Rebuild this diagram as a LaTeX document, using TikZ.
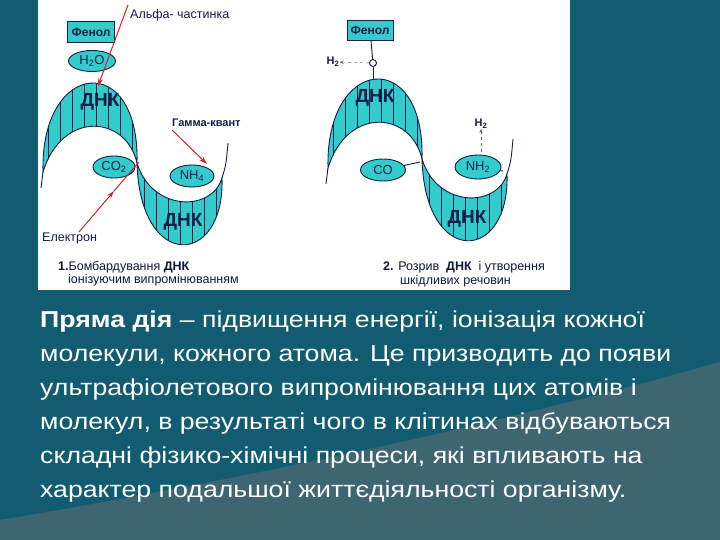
\documentclass[tikz,border=0pt]{standalone}
\usepackage{fontspec}
\setmainfont{Liberation Sans}
\newfontfamily\bodyfont[FakeStretch=1.16]{Liberation Sans}
\usetikzlibrary{arrows.meta,shapes.geometric}
\definecolor{bgteal}{RGB}{18,92,114}
\definecolor{bggrey}{RGB}{62,102,114}
\definecolor{dnacyan}{RGB}{51,204,204}
\definecolor{ink}{RGB}{20,30,70}
\definecolor{ray}{RGB}{215,35,35}
\tikzset{
  lbl/.style={font=\fontsize{12}{13}\selectfont, text=ink, inner sep=0pt},
  big/.style={font=\bfseries\fontsize{19}{20}\selectfont, text=ink, inner sep=0pt},
  mol/.style={ellipse, draw=ink, line width=0.9pt, fill=dnacyan, inner sep=0pt, font=\fontsize{13}{14}\selectfont, text=ink},
  box/.style={rectangle, draw=ink, line width=0.9pt, fill=dnacyan, inner sep=0pt, font=\bfseries\fontsize{12}{13}\selectfont, text=ink},
  rayarrow/.style={draw=ray, line width=1pt, -{Stealth[length=8pt,width=5pt]}},
  captext/.style={font=\fontsize{12.5}{13}\selectfont, text=ink!80!black, inner sep=0pt, anchor=base west},
  body/.style={font=\bodyfont\fontsize{23}{26}\selectfont, text=white, inner sep=0pt, anchor=base west}
}
\newcommand\mydna{%
  \begin{scope}
    \clip (43,172) .. controls (40,60) and (140,50) .. (137,163) .. controls (126,115) and (62,110) .. (43,172) -- cycle;
    \fill[dnacyan] (30,40) rectangle (240,270);
    \foreach \x in {48,60,...,230} \draw[ink, line width=0.5pt] (\x,40) -- (\x,270);
  \end{scope}
  \draw[ink, line width=0.9pt] (43,172) .. controls (40,60) and (140,50) .. (137,163) .. controls (126,115) and (62,110) .. (43,172) -- cycle;
  \begin{scope}
    \clip (137,163) .. controls (140,272) and (225,267) .. (222,178) .. controls (212,212) and (152,212) .. (137,163) -- cycle;
    \fill[dnacyan] (30,40) rectangle (240,270);
    \foreach \x in {48,60,...,230} \draw[ink, line width=0.5pt] (\x,40) -- (\x,270);
  \end{scope}
  \draw[ink, line width=0.9pt] (137,163) .. controls (140,272) and (225,267) .. (222,178) .. controls (212,212) and (152,212) .. (137,163) -- cycle;
  \draw[ink, line width=0.9pt] (222,178) .. controls (226,165) .. (228,143);
  \draw[ink, line width=0.9pt] (43,172) -- (41,188);
}
\begin{document}
\begin{tikzpicture}[x=1pt,y=-1pt]
\useasboundingbox (0,0) rectangle (720,540);
\fill[bgteal] (0,0) rectangle (720,540);
\fill[bggrey] (0,520) .. controls (300,470) and (550,410) .. (720,362) -- (720,540) -- (0,540) -- cycle;
\fill[white] (38,0) rectangle (570,290);

% left diagram
\mydna
\node[box, minimum width=47pt, minimum height=21pt] (fen1) at (91,32) {Фенол};
\node[mol, minimum width=47pt, minimum height=21pt] (h2o) at (92,61) {H\textsubscript{2}O};
\node[big] (dnk1) at (100,102) {ДНК};
\node[big] (dnk2) at (183,222) {ДНК};
\node[mol, minimum width=42pt, minimum height=22pt] (co2) at (114,167) {CO\textsubscript{2}};
\node[mol, minimum width=44pt, minimum height=22pt] (nh4) at (192,176) {NH\textsubscript{4}};
\node[lbl, anchor=west, font=\fontsize{12.5}{13}\selectfont] (alpha) at (130,15) {Альфа- частинка};
\node[lbl, anchor=west, font=\bfseries\fontsize{11}{12}\selectfont] (gamma) at (172,123) {Гамма-квант};
\node[lbl, anchor=west, font=\fontsize{12.5}{13}\selectfont] (elec) at (42,238) {Електрон};
\coordinate (a0) at (128,5);
\coordinate (a1) at (98,86);
\draw[rayarrow] (a0) -- (a1);
\coordinate (g0) at (172,130);
\coordinate (g1) at (207,164);
\draw[rayarrow] (g0) -- (g1);
\coordinate (e0) at (79,232);
\coordinate (e1) at (114,191);
\coordinate (e2) at (139,162);
\draw[rayarrow] (e0) -- (e1);
\draw[draw=ray, line width=1pt] (e1) -- (e2);
\node[captext] (cap1a) at (58,270) {\textbf{1.}Бомбардування \textbf{ДНК}};
\node[captext] (cap1b) at (68,283) {іонізуючим випромінюванням};

% right diagram
\begin{scope}[shift={(285,-4)}]
\mydna
\end{scope}
\node[box, minimum width=46pt, minimum height=20pt] (fen2) at (370,30) {Фенол};
\node[draw=ink, circle, line width=0.9pt, minimum size=7pt, inner sep=0pt] (o) at (373,63) {};
\coordinate (top2) at (373,80);
\draw[ink, line width=0.9pt] (fen2) -- (o);
\draw[ink, line width=0.9pt] (o) -- (top2);
\node[lbl, font=\bfseries\fontsize{11}{12}\selectfont] (h2a) at (333,62) {H\textsubscript{2}};
\draw[ink!70, dashed, -{Stealth[length=4pt]}] (o) -- (h2a);
\node[big] (dnk3) at (375,98) {ДНК};
\node[big] (dnk4) at (467,219) {ДНК};
\node[mol, minimum width=45pt, minimum height=22pt] (co) at (383,170) {CO};
\node[mol, minimum width=46pt, minimum height=24pt] (nh2) at (478,167) {NH\textsubscript{2}};
\coordinate (x2) at (420,162);
\coordinate (x3) at (503,171);
\draw[ink, line width=0.9pt] (co) -- (x2);
\draw[ink, line width=0.9pt] (nh2) -- (x3);
\node[lbl, font=\bfseries\fontsize{11}{12}\selectfont] (h2b) at (481,124) {H\textsubscript{2}};
\coordinate (n2top) at (481,152);
\draw[ink!70, dashed, -{Stealth[length=4pt]}] (n2top) -- (h2b);
\node[captext] (cap2a) at (383,270) {\textbf{2.} Розрив \ \textbf{ДНК} \ і утворення};
\node[captext] (cap2b) at (400,284) {шкідливих речовин};

% body text
\node[body] (t1) at (40,327) {\textbf{Пряма дія} – підвищення енергії, іонізація кожної};
\node[body] (t2) at (40,361) {молекули, кожного атома. Це призводить до появи};
\node[body] (t3) at (40,395) {ультрафіолетового випромінювання цих атомів і};
\node[body] (t4) at (40,429) {молекул, в результаті чого в клітинах відбуваються};
\node[body] (t5) at (40,463) {складні фізико-хімічні процеси, які впливають на};
\node[body] (t6) at (40,497) {характер подальшої життєдіяльності організму.};
\end{tikzpicture}
\end{document}
